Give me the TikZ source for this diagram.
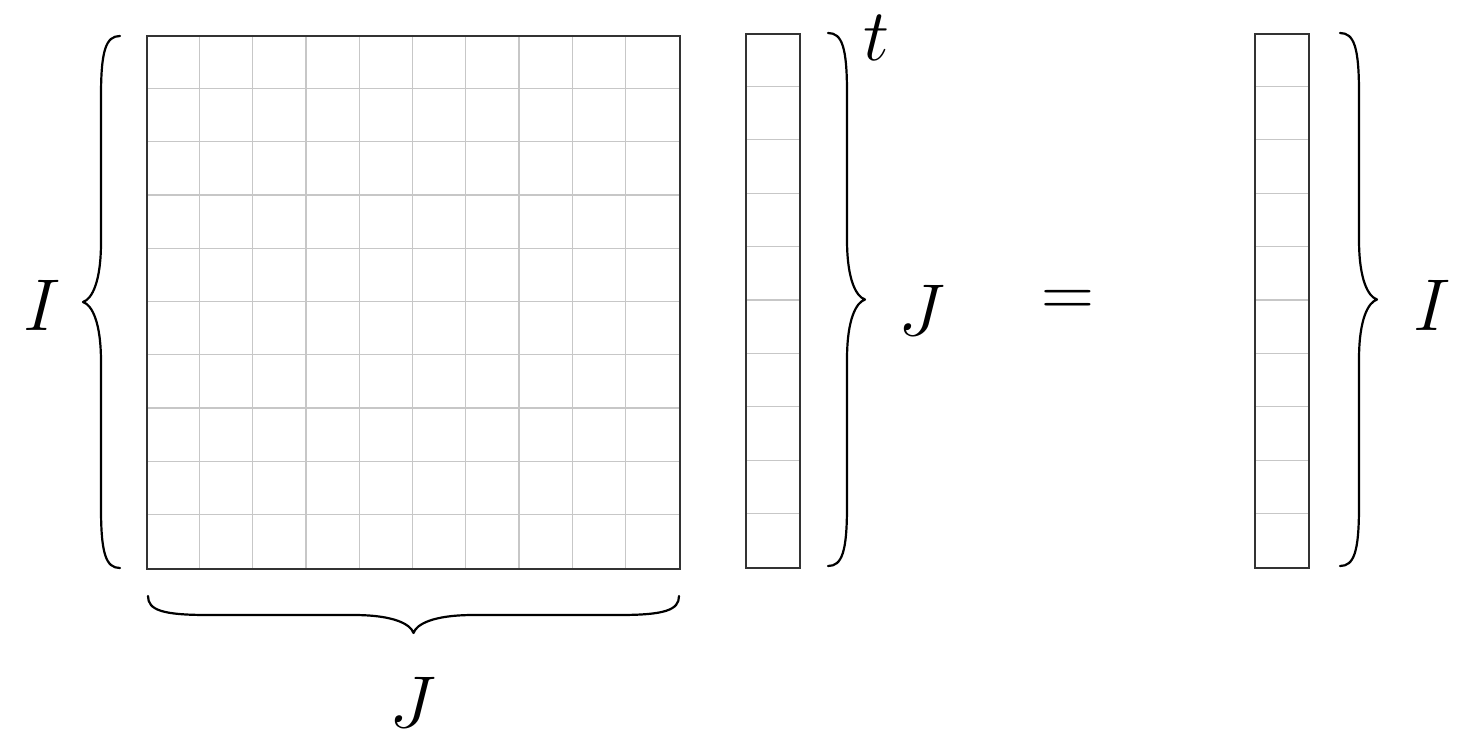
\documentclass[tikz,border=0pt]{standalone}
\begin{document}
\begin{tikzpicture}[x=1pt,y=-1pt,
  gridline/.style={draw=black!22,line width=1.3pt},
  outline/.style={draw=black!80,line width=1.5pt},
  bracestroke/.style={line width=2.2pt,line cap=round,line join=round},
  lbl/.style={inner sep=0pt,font=\Huge,scale=2.95},
  pics/tbrace/.style={code={
    \draw[bracestroke] (0,0) .. controls (-14,0) and (-19,14) .. (-19,60)
      -- (-19,#1/2-60) .. controls (-19,#1/2-20) and (-28,#1/2-3) .. (-37,#1/2)
      .. controls (-28,#1/2+3) and (-19,#1/2+20) .. (-19,#1/2+60)
      -- (-19,#1-60) .. controls (-19,#1-14) and (-14,#1) .. (0,#1);
  }}]
\useasboundingbox (0,0) rectangle (1459,753);
% matrix
\foreach \i in {1,...,9} {
  \draw[gridline] (146+53.3*\i,35) -- (146+53.3*\i,568);
  \draw[gridline] (146,35+53.3*\i) -- (679,35+53.3*\i);
}
\node[outline,minimum width=533,minimum height=533,inner sep=0pt,anchor=north west] (M) at (146,35) {};
% vector t
\foreach \i in {1,...,9} \draw[gridline] (745,33+53.4*\i) -- (799,33+53.4*\i);
\node[outline,minimum width=54,minimum height=534,inner sep=0pt,anchor=north west] (V) at (745,33) {};
% result vector
\foreach \i in {1,...,9} \draw[gridline] (1254,33+53.4*\i) -- (1308,33+53.4*\i);
\node[outline,minimum width=54,minimum height=534,inner sep=0pt,anchor=north west] (R) at (1254,33) {};
% braces
\pic at (120,36) {tbrace=532};
\pic[rotate=90] at (148,596) {tbrace=531};
\pic[xscale=-1] at (828,33) {tbrace=533};
\pic[xscale=-1] at (1340,33) {tbrace=533};
% labels
\node[lbl] (lI) at (42,305) {$I$};
\node[lbl] (lJb) at (413,702) {$J$};
\node[lbl] (lt) at (876,38) {$t$};
\node[lbl] (lJ) at (922,310) {$J$};
\node[lbl] (eq) at (1068,303) {$=$};
\node[lbl] (rI) at (1432,305) {$I$};
\end{tikzpicture}
\end{document}
